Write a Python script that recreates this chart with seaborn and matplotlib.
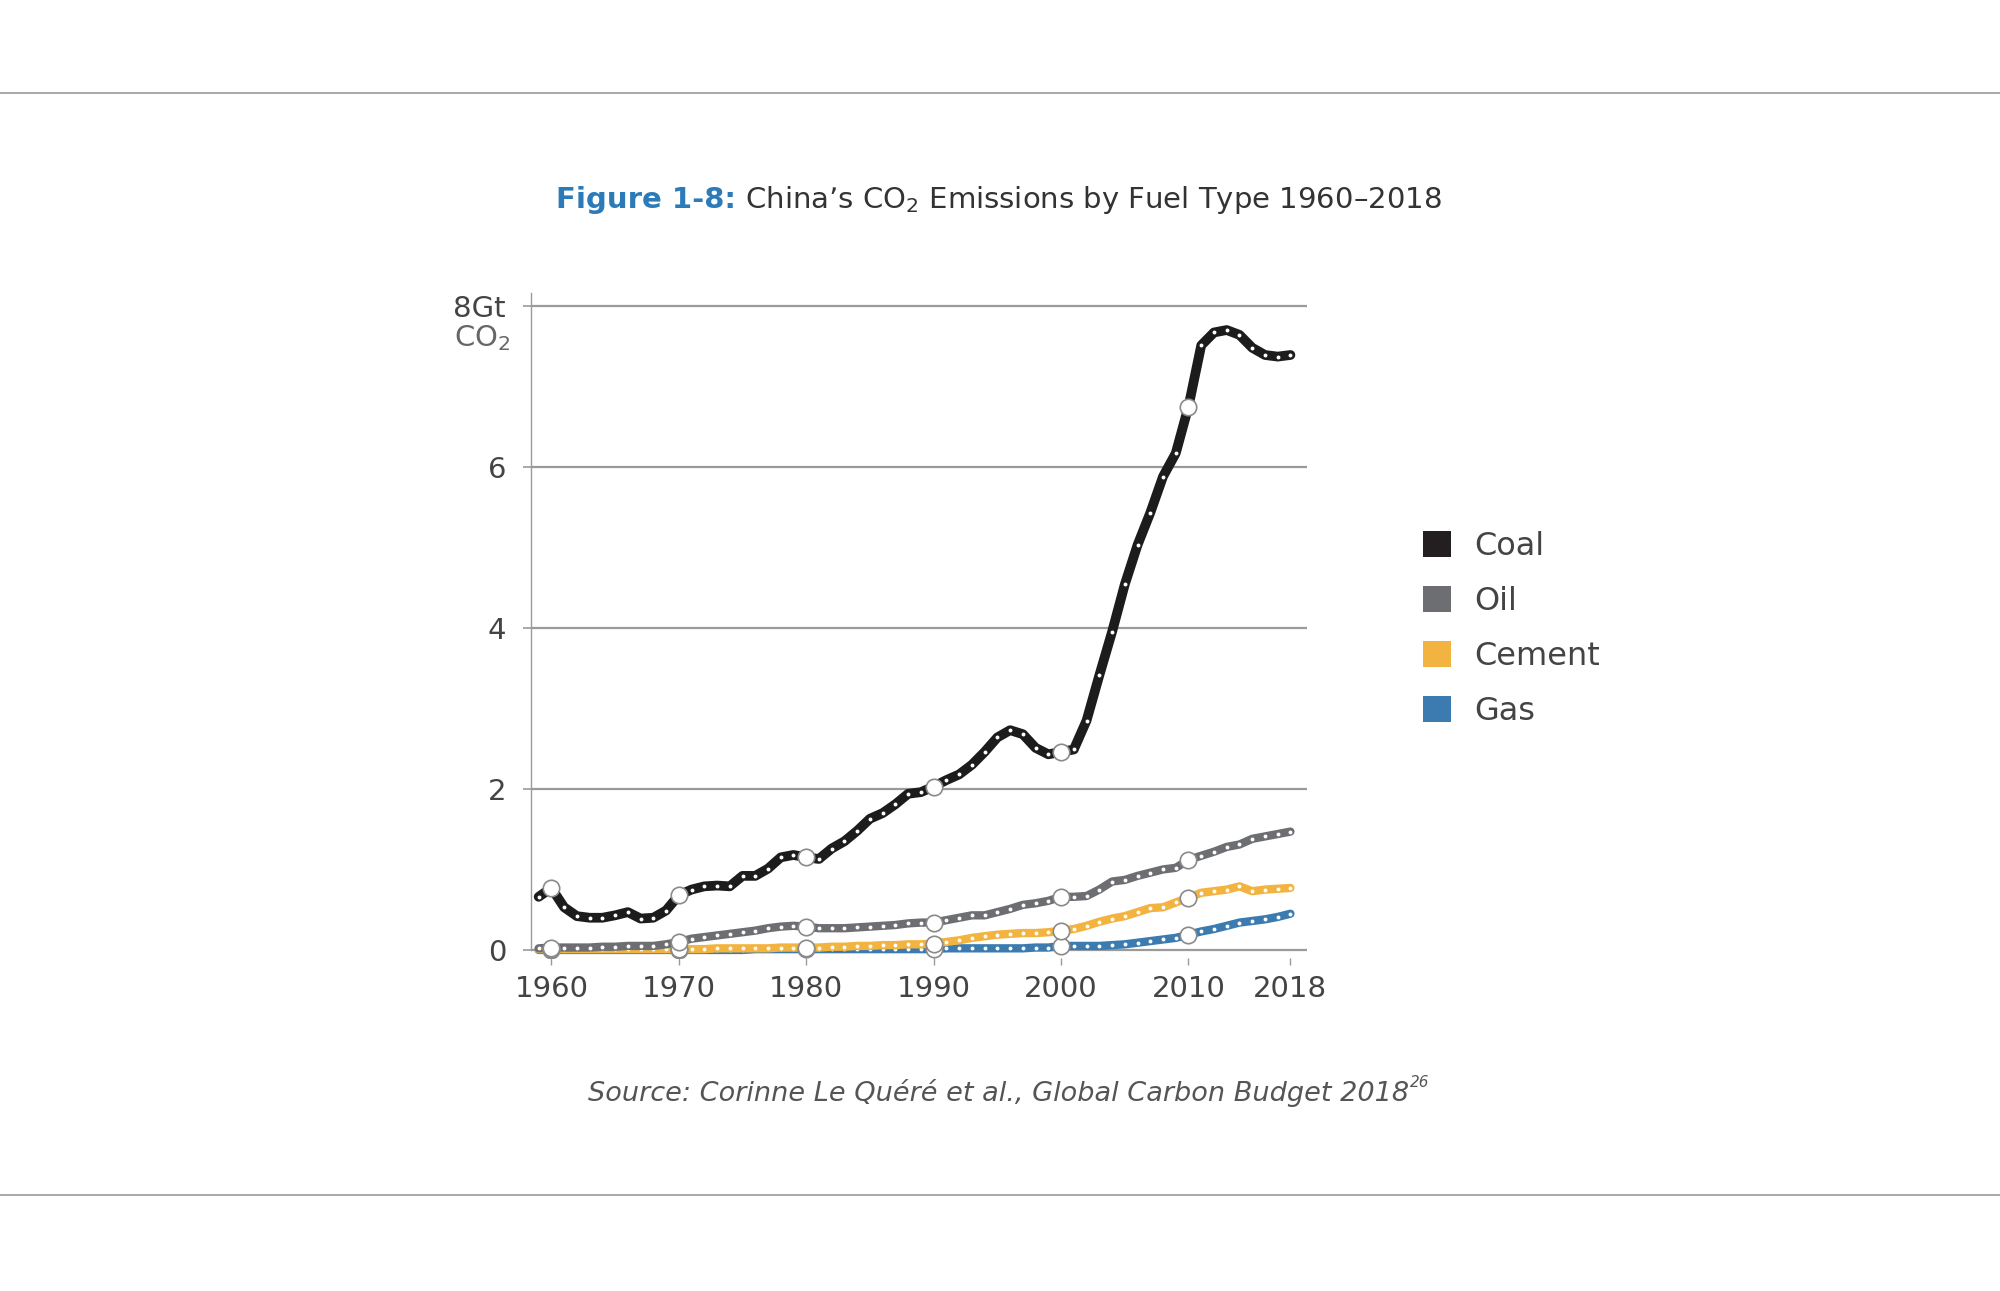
import matplotlib
matplotlib.use("Agg")
import pandas as pd
import matplotlib.pyplot as plt
import seaborn as sns
from matplotlib.patches import Patch

# --------------------------------------------------------
# Data (Gt CO2)
# --------------------------------------------------------
YEARS = list(range(1959, 2019))

COAL = [0.66, 0.77, 0.53, 0.42, 0.40, 0.40, 0.43, 0.47, 0.39, 0.40,
        0.49, 0.68, 0.75, 0.79, 0.80, 0.79, 0.92, 0.92, 1.01, 1.15,
        1.18, 1.15, 1.13, 1.26, 1.35, 1.48, 1.63, 1.70, 1.81, 1.94,
        1.96, 2.03, 2.11, 2.18, 2.30, 2.46, 2.64, 2.73, 2.68, 2.51,
        2.43, 2.46, 2.49, 2.85, 3.41, 3.95, 4.54, 5.03, 5.43, 5.88,
        6.17, 6.75, 7.51, 7.67, 7.70, 7.64, 7.48, 7.39, 7.37, 7.39]

OIL = [0.02, 0.03, 0.03, 0.03, 0.03, 0.04, 0.04, 0.05, 0.05, 0.05,
       0.07, 0.10, 0.14, 0.16, 0.18, 0.20, 0.22, 0.24, 0.27, 0.29,
       0.30, 0.29, 0.27, 0.27, 0.27, 0.28, 0.29, 0.30, 0.31, 0.33,
       0.34, 0.34, 0.37, 0.40, 0.43, 0.43, 0.47, 0.51, 0.56, 0.58,
       0.61, 0.66, 0.66, 0.67, 0.75, 0.85, 0.87, 0.92, 0.96, 1.00,
       1.02, 1.12, 1.17, 1.22, 1.28, 1.31, 1.38, 1.41, 1.44, 1.47]

CEMENT = [0.01, 0.01, 0.01, 0.01, 0.01, 0.01, 0.01, 0.01, 0.01, 0.01,
          0.01, 0.01, 0.01, 0.01, 0.02, 0.02, 0.02, 0.02, 0.02, 0.03,
          0.03, 0.03, 0.03, 0.04, 0.04, 0.05, 0.05, 0.06, 0.06, 0.07,
          0.07, 0.08, 0.10, 0.12, 0.15, 0.17, 0.19, 0.20, 0.21, 0.21,
          0.22, 0.24, 0.26, 0.30, 0.35, 0.39, 0.42, 0.47, 0.52, 0.53,
          0.59, 0.65, 0.71, 0.73, 0.75, 0.79, 0.73, 0.75, 0.76, 0.77]

GAS = [0.00, 0.00, 0.00, 0.00, 0.00, 0.00, 0.00, 0.00, 0.00, 0.00,
       0.00, 0.00, 0.00, 0.00, 0.00, 0.00, 0.00, 0.01, 0.01, 0.01,
       0.01, 0.01, 0.01, 0.01, 0.01, 0.01, 0.01, 0.01, 0.01, 0.01,
       0.01, 0.01, 0.02, 0.02, 0.02, 0.02, 0.02, 0.02, 0.02, 0.03,
       0.03, 0.05, 0.05, 0.05, 0.05, 0.06, 0.07, 0.09, 0.11, 0.13,
       0.15, 0.19, 0.23, 0.26, 0.30, 0.34, 0.36, 0.38, 0.41, 0.45]

FUELS = ["Coal", "Oil", "Cement", "Gas"]
COLORS = {"Coal": "#1c1c1c", "Oil": "#6d6e71", "Cement": "#f2b340", "Gas": "#3b7bb0"}
LEGEND_COLORS = {"Coal": "#231f20", "Oil": "#6d6e71", "Cement": "#f2b340", "Gas": "#3b7bb0"}

Y_TICKS = [0, 2, 4, 6, 8]
Y_LABELS = ["0", "2", "4", "6", "8Gt"]
X_TICKS = [1960, 1970, 1980, 1990, 2000, 2010, 2018]
X_LABELS = ["1960", "1970", "1980", "1990", "2000", "2010", "2018"]
DECADES = [1960, 1970, 1980, 1990, 2000, 2010]

W, H = 2000, 1291
TEXT = "#444444"
FONT = ["DejaVu Sans"]


def build_frame():
    rows = []
    for fuel, vals in zip(FUELS, [COAL, OIL, CEMENT, GAS]):
        assert len(vals) == len(YEARS), fuel
        for y, v in zip(YEARS, vals):
            rows.append({"Year": y, "Fuel": fuel, "Gt": v})
    return pd.DataFrame(rows)


def text_run(fig, xc, y, parts):
    # place several text pieces side by side, centred on xc (figure fraction)
    renderer = fig.canvas.get_renderer()
    objs = [fig.text(0, y, s, va="baseline", ha="left", **kw) for s, kw in parts]
    widths = [t.get_window_extent(renderer).width for t in objs]
    x = xc * W - sum(widths) / 2
    for t, w in zip(objs, widths):
        t.set_x(x / W)
        x += w
    return objs


def main():
    sns.set_theme(style="white")
    plt.rcParams["font.family"] = FONT
    plt.rcParams["mathtext.default"] = "regular"

    df = build_frame()

    fig = plt.figure(figsize=(W / 100, H / 100), dpi=100)
    fig.canvas.draw()
    ax = fig.add_axes([531 / W, 1 - 958 / H, 776 / W, 665 / H])

    # lines, back to front
    order = ["Gas", "Cement", "Oil", "Coal"]
    for fuel in order:
        sub = df[df["Fuel"] == fuel]
        sns.lineplot(data=sub, x="Year", y="Gt", color=COLORS[fuel], ax=ax,
                     linewidth=7 if fuel == "Coal" else 6,
                     marker="o", markersize=2.8, markerfacecolor="white",
                     markeredgewidth=0, legend=False, zorder=3,
                     solid_capstyle="round", solid_joinstyle="round")
        dec = sub[sub["Year"].isin(DECADES)]
        sns.scatterplot(data=dec, x="Year", y="Gt", ax=ax, s=140,
                        color="white", edgecolor="#8a8a8a", linewidth=1.2,
                        zorder=4, legend=False)

    ax.set_xlim(1958.4, 2019.3)
    ax.set_ylim(-0.1, 8.16)
    ax.set_yticks(Y_TICKS)
    ax.set_yticklabels(Y_LABELS)
    ax.set_xticks(X_TICKS)
    ax.set_xticklabels(X_LABELS)
    ax.set_xlabel("")
    ax.set_ylabel("")
    ax.grid(axis="y", color="#9a9a9a", linewidth=1.6, zorder=1)
    ax.set_axisbelow(True)

    for side in ["top", "right", "bottom"]:
        ax.spines[side].set_visible(False)
    ax.spines["left"].set_color("#9a9a9a")
    ax.spines["left"].set_linewidth(1.0)
    ax.spines["left"].set_bounds(0, 8.16)

    ax.tick_params(axis="y", left=True, length=6, width=1.2, color="#9a9a9a",
                   labelsize=21, labelcolor=TEXT, pad=12)
    ax.tick_params(axis="x", bottom=True, length=5, width=1.0, color="#9a9a9a",
                   labelsize=21, labelcolor=TEXT, pad=7)

    # "CO2" under the 8Gt label
    ax.text(-0.026, 7.6, "CO$_2$", transform=ax.get_yaxis_transform(),
            ha="right", va="center", fontsize=21, color="#666666")

    # legend
    handles = [Patch(facecolor=LEGEND_COLORS[f], edgecolor="none", label=f) for f in FUELS]
    leg = fig.legend(handles=handles, loc="upper left",
                     bbox_to_anchor=(1423 / W, 1 - 531 / H),
                     bbox_transform=fig.transFigure, frameon=False,
                     fontsize=23, handlelength=0.88, handleheight=0.88,
                     handletextpad=0.72, labelspacing=0.75, borderpad=0,
                     borderaxespad=0)
    for t in leg.get_texts():
        t.set_color(TEXT)

    # title
    text_run(fig, 0.4995, 1 - 208 / H, [
        ("Figure 1-8:", dict(color="#2b7bb9", fontsize=21, fontweight="bold")),
        (" China\u2019s CO$_2$ Emissions by Fuel Type 1960\u20132018",
         dict(color="#333333", fontsize=21)),
    ])

    # source
    text_run(fig, 0.4995, 1 - 1101 / H, [
        ("Source: Corinne Le Qu\u00e9r\u00e9 et al., Global Carbon Budget 2018",
         dict(color="#555555", fontsize=19.5, style="italic")),
    ])
    src = fig.texts[-1]
    renderer = fig.canvas.get_renderer()
    ext = src.get_window_extent(renderer)
    fig.text(ext.x1 / W, 1 - 1087 / H, "26", fontsize=11, color="#555555",
             style="italic", ha="left", va="baseline")

    # page rules
    for yy in [93, 1195]:
        fig.add_artist(plt.Line2D([0, 1], [1 - yy / H] * 2, color="#a8a8a8",
                                  linewidth=1.4, transform=fig.transFigure))

    fig.savefig("out.png", dpi=100, facecolor="white")
    plt.close(fig)


if __name__ == "__main__":
    main()
